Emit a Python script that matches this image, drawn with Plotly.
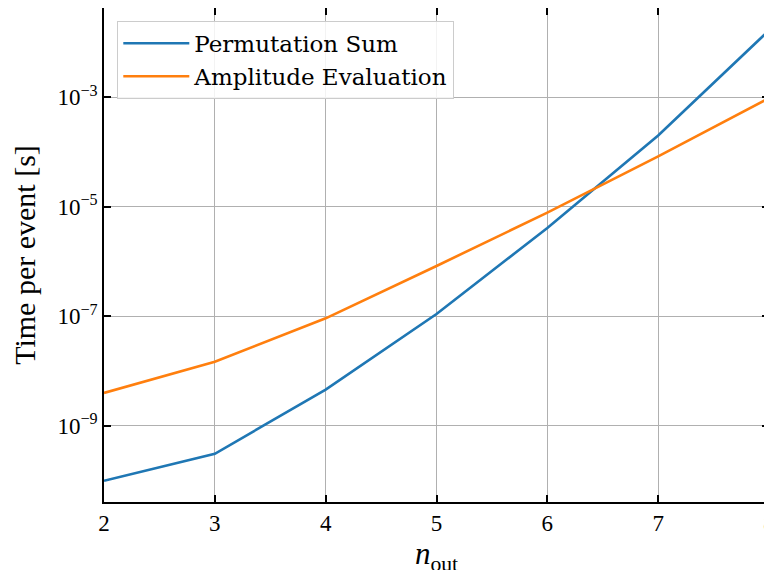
import plotly.graph_objects as go

n_out = [2, 3, 4, 5, 6, 7, 8]
permutation_sum = [1.0e-10, 3.1e-10, 4.6e-9, 1.1e-7, 4.1e-6, 2.0e-4, 1.65e-2]
amplitude_eval = [4.0e-9, 1.48e-8, 9.2e-8, 8.3e-7, 7.8e-6, 8.3e-5, 9.6e-4]

ytick_vals = [1e-9, 1e-7, 1e-5, 1e-3]
ytick_text = ["10<sup>−9</sup>", "10<sup>−7</sup>", "10<sup>−5</sup>", "10<sup>−3</sup>"]

FONT = "Liberation Serif"
FONT2 = "DejaVu Serif"

fig = go.Figure()
fig.add_trace(go.Scatter(x=n_out, y=permutation_sum, mode="lines", name="Permutation Sum",
                         line=dict(color="#1f77b4", width=2.6)))
fig.add_trace(go.Scatter(x=n_out, y=amplitude_eval, mode="lines", name="Amplitude Evaluation",
                         line=dict(color="#ff7f0e", width=2.6)))

axis_common = dict(showline=True, linecolor="black", linewidth=1.5, mirror="ticks",
                   ticks="inside", ticklen=7, tickwidth=1.5, tickcolor="black",
                   showgrid=True, gridcolor="#b0b0b0", gridwidth=1, zeroline=False,
                   tickfont=dict(family=FONT, size=23, color="black"))

fig.update_xaxes(range=[2, 8], tickvals=n_out, automargin=True,
                 title=dict(text="<i>n</i><sub>out</sub>", font=dict(family=FONT, size=31, color="black"),
                            standoff=6),
                 **axis_common)
fig.update_yaxes(type="log", range=[-10.388, -1.374], tickvals=ytick_vals, ticktext=ytick_text,
                 automargin=False,
                 title=dict(text="Time per event [s]", font=dict(family=FONT, size=30, color="black")),
                 **axis_common)

fig.update_layout(
    width=772, height=570,
    margin=dict(l=96, r=11, t=0, b=76, autoexpand=False),
    plot_bgcolor="white", paper_bgcolor="white",
    font=dict(family=FONT, color="black"),
    legend=dict(x=0.02, y=0.974, xanchor="left", yanchor="top",
                bgcolor="rgba(255,255,255,0.85)", bordercolor="#cccccc", borderwidth=1,
                itemwidth=66,
                font=dict(family=FONT2, size=23, color="black"), tracegroupgap=0),
    showlegend=True,
)

fig.write_html("out.html")
